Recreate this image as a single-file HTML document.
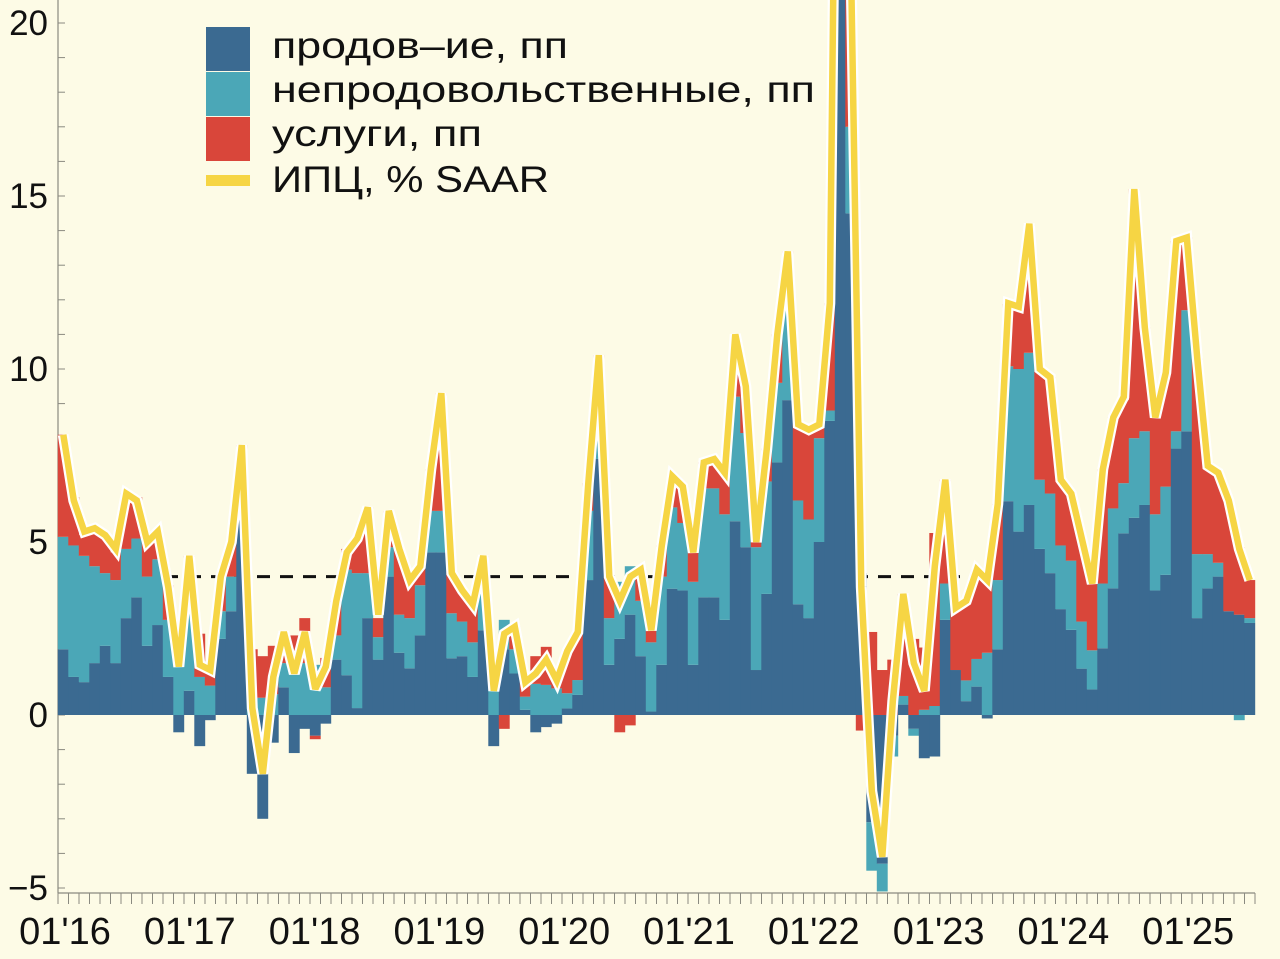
<!DOCTYPE html>
<html><head><meta charset="utf-8"><style>
html,body{margin:0;padding:0;background:#fdfbe6;}
svg{display:block;font-family:"Liberation Sans","DejaVu Sans",sans-serif;}
</style></head><body>
<svg id="chart" width="1280" height="959" viewBox="0 0 1280 959" xmlns="http://www.w3.org/2000/svg">
<rect x="0" y="0" width="1280" height="959" fill="#fdfbe6"/>
<g id="grid"></g>
<g id="bars"></g>
<g id="lines"></g>
<g id="labels"></g>
<g>
  <rect x="206" y="27" width="44" height="44" fill="#3b6a91"/>
  <rect x="206" y="72" width="44" height="44" fill="#4ba7b7"/>
  <rect x="206" y="117" width="44" height="44" fill="#d9463a"/>
  <rect x="206" y="175" width="44" height="11" fill="#f6d544"/>
  <text x="272" y="58" font-size="37" fill="#111" textLength="296" lengthAdjust="spacingAndGlyphs">продов–ие, пп</text>
  <text x="272" y="102" font-size="37" fill="#111" textLength="543" lengthAdjust="spacingAndGlyphs">непродовольственные, пп</text>
  <text x="272" y="146" font-size="37" fill="#111" textLength="210" lengthAdjust="spacingAndGlyphs">услуги, пп</text>
  <text x="272" y="192" font-size="37" fill="#111" textLength="277" lengthAdjust="spacingAndGlyphs">ИПЦ, % SAAR</text>
</g>
</svg>
<script>
const food = [1.9,1.1,0.95,1.5,2.0,1.5,2.8,3.4,2.0,2.6,1.1,-0.5,0.7,-0.9,-0.15,2.2,3.0,6.0,-1.7,-3.0,-0.8,0.8,-1.1,-0.4,-0.6,-0.25,1.6,1.15,0.2,2.8,1.6,4.0,1.8,1.35,2.3,4.7,4.7,1.64,1.7,1.1,2.45,-0.9,1.9,1.2,0.15,-0.5,-0.35,-0.25,0.19,0.58,3.9,7.4,1.45,2.2,2.9,1.7,0.1,1.45,3.65,3.6,1.45,3.4,3.4,2.75,5.6,4.85,1.3,3.5,7.3,9.1,3.2,2.8,5.0,8.5,30,14.5,4.1,-3.1,-4.3,-0.6,0.3,-0.4,-1.25,-1.2,2.75,1.3,0.4,0.82,-0.1,1.9,6.18,5.3,6.07,4.8,4.1,3.06,2.46,1.34,0.74,1.93,3.66,5.25,5.7,6.07,3.6,4.05,7.7,8.2,2.8,3.66,4.0,3.0,2.9,2.66];
const nonfood = [3.25,3.8,3.65,2.8,2.1,2.4,2.0,1.7,2.0,1.9,1.65,1.4,2.4,1.1,0.85,0.8,1.0,0.8,0.5,0.5,0.6,0.7,1.5,1.5,1.45,0.8,0.7,3.05,3.9,1.3,0.65,0.85,1.1,1.45,1.45,1.2,1.2,1.3,1.0,1.0,1.15,0.9,0.85,0.7,0.38,0.9,0.87,0.77,0.44,0.43,2.0,2.2,1.35,1.65,1.4,1.6,2.0,2.55,2.35,1.95,2.4,3.15,3.15,3.05,3.6,3.3,3.55,3.25,2.3,3.5,3.0,2.85,3.0,0.3,5,2.5,0,-1.4,-0.8,-0.6,0.25,-0.2,0.15,0.26,1.05,0,0.6,0.8,1.8,2.0,3.9,4.7,4.4,2.0,2.3,1.84,2.0,1.36,1.13,1.87,2.31,1.45,2.3,2.13,2.2,2.55,0.5,3.5,1.85,0.99,0.4,0.0,-0.15,0.14];
const services = [2.95,1.4,0.6,1.1,1.1,0.8,1.6,1.2,1.1,0.8,1.0,0.1,1.5,1.25,0.35,0.9,1.0,1.0,1.4,1.2,1.4,0.9,0.8,1.3,-0.1,0.85,1.0,0.6,1.0,1.9,0.55,1.05,1.9,1.1,0.55,1.2,3.4,1.2,0.9,1.1,1.0,0.7,-0.4,0.65,0.4,0.8,1.1,0.48,1.2,1.35,0.8,0.8,1.2,-0.5,-0.3,0.9,0.35,0.9,0.7,1.05,0.85,0.75,0.85,1.3,1.7,1.25,0.15,0.95,1.4,0.8,2.2,2.6,0.4,3.1,4,5,-0.45,2.4,1.3,1.6,2.95,2.2,1.8,5.0,3.0,1.8,2.3,2.6,2.2,2.2,1.8,1.8,3.7,3.2,3.36,1.9,1.9,2.4,1.93,3.3,2.63,2.4,7.2,3.0,2.8,3.3,5.5,2.1,5.65,2.55,2.6,3.2,1.95,1.1];
const cpi = [8.1,6.2,5.3,5.4,5.2,4.8,6.4,6.2,5.0,5.3,3.7,1.4,4.6,1.45,1.3,4.0,5.0,7.8,0.2,-1.7,1.1,2.4,1.2,2.4,0.75,1.4,3.3,4.7,5.1,6.0,2.9,5.9,4.8,3.9,4.3,7.1,9.3,4.1,3.6,3.2,4.6,0.7,2.35,2.55,0.95,1.2,1.6,1.0,1.85,2.4,6.7,10.4,4.0,3.3,4.0,4.2,2.45,4.9,6.9,6.6,4.7,7.3,7.4,7.0,11.0,9.5,5.0,7.7,11.0,13.4,8.4,8.25,8.4,11.9,39,22,3.7,-2.2,-4.1,0.4,3.5,1.5,0.7,4.3,6.8,3.1,3.3,4.2,3.9,6.1,11.9,11.8,14.2,10.0,9.76,6.8,6.4,5.1,3.8,7.1,8.6,9.2,15.2,11.2,8.6,9.9,13.7,13.8,10.3,7.2,7.0,6.2,4.8,3.9];
const yTicks = [-5,0,5,10,15,20];
const yTickLabels = ["\u22125","0","5","10","15","20"];
const xTickLabels = ["01'16","01'17","01'18","01'19","01'20","01'21","01'22","01'23","01'24","01'25"];
const targetLevel = 4;

const NS="http://www.w3.org/2000/svg";
const X0=58, BW=10.5, Y0=715, PU=34.6;
function xScale(i){return X0+BW*i;}
function yScale(v){return Y0-v*PU;}
function mk(tag,attrs,parent){const e=document.createElementNS(NS,tag);for(const k in attrs)e.setAttribute(k,attrs[k]);parent.appendChild(e);return e;}
const grid=document.getElementById('grid'), bars=document.getElementById('bars'), lines=document.getElementById('lines'), labels=document.getElementById('labels');
const N=food.length;
const axisBottom=893;
// y axis
let ya=mk('line',{x1:X0,y1:0,x2:X0,y2:axisBottom,stroke:'#8a8a80','stroke-width':1.2},grid);


for(let v=-5;v<=20;v++){
  let t=mk('line',{x1:X0,y1:yScale(v),x2:X0+7,y2:yScale(v),stroke:'#8a8a80','stroke-width':1},grid);
  
  
}
yTicks.forEach((v,k)=>{
  let t=mk('text',{x:48,y:yScale(v)+12,'font-size':35,'text-anchor':'end',fill:'#111'},labels);
  t.textContent=yTickLabels[k];
  
  
});
// x axis
let xa=mk('line',{x1:X0,y1:axisBottom,x2:xScale(N),y2:axisBottom,stroke:'#8a8a80','stroke-width':1.2},grid);


for(let i=0;i<=N;i++){
  let t=mk('line',{x1:xScale(i),y1:axisBottom,x2:xScale(i),y2:axisBottom+11,stroke:'#8a8a80','stroke-width':1},grid);
  
  
}
xTickLabels.forEach((s,k)=>{
  let t=mk('text',{x:65+k*12*10.4,y:944,'font-size':38,'text-anchor':'middle',fill:'#111'},labels);
  t.textContent=s;
  
  
});
// target dashed line
let dl=mk('line',{x1:165,y1:yScale(targetLevel),x2:980,y2:yScale(targetLevel),stroke:'#111','stroke-width':3,'stroke-dasharray':'13 10'},grid);


// bars
const series=[[food,'#3b6a91','bar-food'],[nonfood,'#4ba7b7','bar-nonfood'],[services,'#d9463a','bar-services']];
for(let i=0;i<N;i++){
  let pos=0,neg=0;
  series.forEach(([arr,col,nm])=>{
    const v=arr[i];let a,b;
    if(v>=0){a=pos;b=pos+v;pos=b;}else{a=neg;b=neg+v;neg=b;}
    const y1=Math.max(yScale(Math.max(a,b)),0), y2=yScale(Math.min(a,b));
    if(y2-y1<=0)return;
    let r=mk('rect',{x:xScale(i)-0.2,y:y1,width:BW+0.4,height:y2-y1,fill:col},bars);
    
    
  });
}
// cpi line
let pts=cpi.map((v,i)=>(xScale(i)+BW/2).toFixed(1)+','+yScale(v).toFixed(1)).join(' ');
let w=mk('polyline',{points:pts,fill:'none',stroke:'#ffffff','stroke-width':11,'stroke-linejoin':'miter','stroke-miterlimit':3},lines);


let yl=mk('polyline',{points:pts,fill:'none',stroke:'#f6d544','stroke-width':6.5,'stroke-linejoin':'miter','stroke-miterlimit':3},lines);


</script>
</body></html>
